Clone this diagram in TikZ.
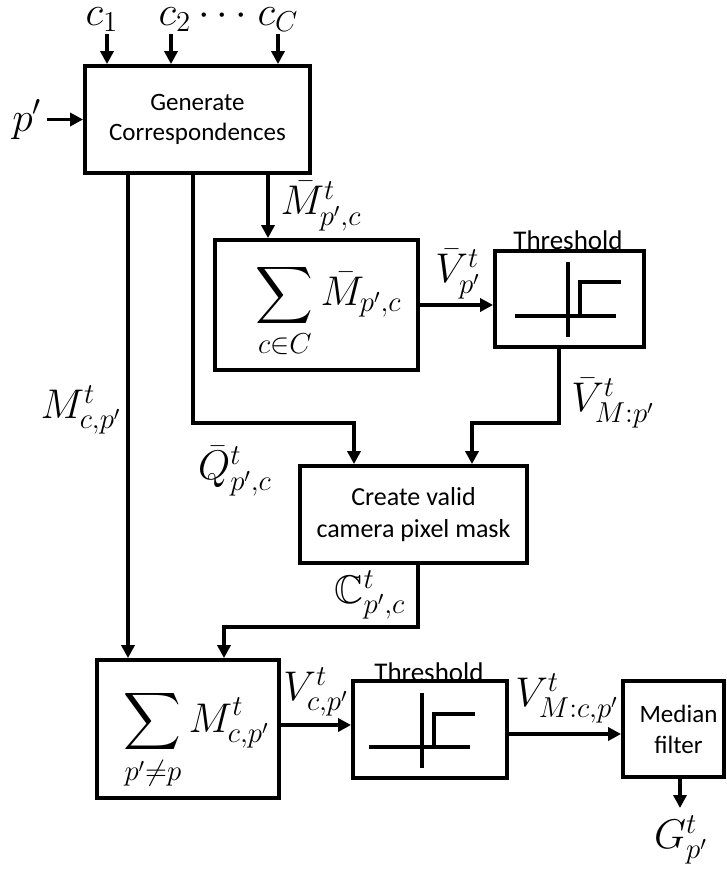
\documentclass[tikz,border=0pt]{standalone}
\usepackage{amsmath,amssymb}
\usepackage{fontspec}
\setmainfont{Carlito}
\usetikzlibrary{arrows.meta}
\begin{document}
\begin{tikzpicture}[x=0.5pt,y=-0.5pt,
  blk/.style={draw, line width=1.9pt, inner sep=0pt, align=center, font=\fontsize{12.5}{15}\selectfont},
  arr/.style={line width=1.9pt, -{Triangle[length=6.5pt,width=6.5pt]}},
  ln/.style={line width=1.9pt},
  mlab/.style={inner sep=0pt, font=\fontsize{20}{24}\selectfont},
  tlab/.style={inner sep=0pt, font=\fontsize{13.5}{15}\selectfont},
  stepsym/.style={line width=2.2pt, line join=miter}
]
\useasboundingbox (0,0) rectangle (727,869);

% blocks
\node[blk, minimum width=112.5pt, minimum height=53.5pt] (gen) at (197.5,119.5) {Generate\\Correspondences};
\node[blk, minimum width=101.5pt, minimum height=65pt] (sum1) at (316.5,305) {};
\node[blk, minimum width=74.5pt, minimum height=48pt] (thr1) at (569.5,299) {};
\node[blk, minimum width=113.5pt, minimum height=48.5pt, font=\fontsize{13}{16}\selectfont] (create) at (413.5,514.5) {Create valid\\camera pixel mask};
\node[blk, minimum width=91pt, minimum height=69pt] (sum2) at (188,729) {};
\node[blk, minimum width=77pt, minimum height=48.5pt] (thr2) at (430,729.5) {};
\node[blk, minimum width=50.5pt, minimum height=48pt, font=\fontsize{12.5}{15.5}\selectfont] (med) at (673.5,729) {\hspace*{5pt}Median\\\hspace*{5pt}filter};

% block contents
\node[mlab, anchor=east] (sum1f) at (402,311) {$\displaystyle\sum_{c\in C}\bar{M}_{p',c}$};
\node[mlab, anchor=east] (sum2f) at (270,740) {$\displaystyle\sum_{p'\neq p}M^t_{c,p'}$};
\node[tlab] (thr1lab) at (568,240) {Threshold};
\node[tlab] (thr2lab) at (429,672) {Threshold};

% threshold symbols
\draw[stepsym] (515,316) -- (616,316);
\draw[stepsym] (568,262) -- (568,337);
\draw[stepsym] (535,316) -- (580,316) -- (580,282) -- (621,282);
\draw[stepsym] (369,747) -- (470,747);
\draw[stepsym] (422,693) -- (422,768);
\draw[stepsym] (395,747) -- (434,747) -- (434,714) -- (475,714);

% input labels
\node[mlab, anchor=base] (c1) at (102,25) {$c_1$};
\node[mlab, anchor=base] (c2) at (175,25) {$c_2$};
\node[mlab, anchor=base] (cdots) at (226,25) {$\cdots$};
\node[mlab, anchor=base] (cC) at (278,25) {$c_C$};
\node[mlab, anchor=base] (pp) at (27,131) {$p'$};

% signal labels
\node[mlab] (lMbar) at (321,206) {$\bar{M}^t_{p',c}$};
\node[mlab] (lVbar) at (458,274) {$\bar{V}^t_{p'}$};
\node[mlab] (lVbarM) at (613,403) {$\bar{V}^t_{M:p'}$};
\node[mlab] (lQ) at (235,471) {$\bar{Q}^t_{p',c}$};
\node[mlab] (lM) at (81,410) {$M^t_{c,p'}$};
\node[mlab] (lC) at (370,595) {$\mathbb{C}^t_{p',c}$};
\node[mlab] (lV) at (316,692) {$V^t_{c,p'}$};
\node[mlab] (lVM) at (567,698) {$V^t_{M:c,p'}$};
\node[mlab] (lG) at (681,840) {$G^t_{p'}$};

% helper coordinates
\coordinate (c1a) at (107,34);
\coordinate (c2a) at (171,34);
\coordinate (cCa) at (278,34);
\coordinate (pa) at (47,119.5);
\coordinate (xM) at (128,0);
\coordinate (xQ) at (193,0);
\coordinate (xMb) at (268,0);
\coordinate (q1) at (193,423);
\coordinate (q2) at (354,423);
\coordinate (v1) at (559,423);
\coordinate (v2) at (472,423);
\coordinate (k1) at (418,627);
\coordinate (k2) at (224,627);
\coordinate (yV) at (0,305);
\coordinate (yV2) at (0,725);
\coordinate (yVM) at (0,734);
\coordinate (gEnd) at (680,808);

% connectors
\draw[arr] (c1a) -- (c1a |- gen.north);
\draw[arr] (c2a) -- (c2a |- gen.north);
\draw[arr] (cCa) -- (cCa |- gen.north);
\draw[arr] (pa) -- (gen.west);
\draw[arr] (gen.south -| xMb) -- (sum1.north -| xMb);
\draw[arr] (gen.south -| xQ) -- (q1) -- (q2) -- (q2 |- create.north);
\draw[arr] (thr1.south -| v1) -- (v1) -- (v2) -- (v2 |- create.north);
\draw[arr] (gen.south -| xM) -- (sum2.north -| xM);
\draw[arr] (create.south -| k1) -- (k1) -- (k2) -- (k2 |- sum2.north);
\draw[arr] (sum1.east |- yV) -- (thr1.west |- yV);
\draw[arr] (sum2.east |- yV2) -- (thr2.west |- yV2);
\draw[arr] (thr2.east |- yVM) -- (med.west |- yVM);
\draw[arr] (med.south -| gEnd) -- (gEnd);
\end{tikzpicture}
\end{document}
